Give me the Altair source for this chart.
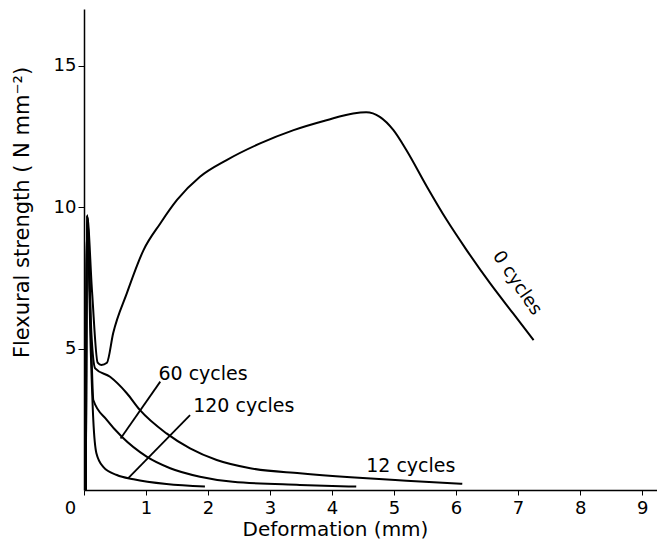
import altair as alt
import pandas as pd

# ---- data ----
zero_x = [0.03, 0.05, 0.13, 0.22, 0.28, 0.37, 0.47, 0.69, 0.96, 1.23, 1.50, 1.87, 2.30, 2.84, 3.38, 3.91, 4.34, 4.55, 4.77, 4.99, 5.20, 5.53, 5.85, 6.17, 6.55, 6.92, 7.25]
zero_y = [0.0, 9.7, 7.0, 4.5, 4.42, 4.5, 5.54, 6.95, 8.48, 9.42, 10.25, 11.07, 11.66, 12.25, 12.72, 13.07, 13.31, 13.35, 13.19, 12.72, 12.01, 10.72, 9.54, 8.48, 7.30, 6.24, 5.30]

c12_x = [0.03, 0.05, 0.12, 0.18, 0.42, 0.69, 0.90, 1.33, 1.71, 2.14, 2.68, 3.48, 4.30, 5.20, 6.10]
c12_y = [0.0, 9.7, 5.5, 4.3, 4.0, 3.42, 2.83, 2.0, 1.47, 1.06, 0.77, 0.59, 0.45, 0.33, 0.22]

c60_x = [0.03, 0.05, 0.12, 0.15, 0.37, 0.61, 1.01, 1.39, 1.87, 2.40, 3.48, 4.39]
c60_y = [0.0, 9.7, 4.84, 3.18, 2.47, 1.88, 1.18, 0.77, 0.47, 0.29, 0.18, 0.12]

c120_x = [0.03, 0.05, 0.11, 0.15, 0.20, 0.31, 0.53, 0.80, 1.33, 1.95]
c120_y = [0.0, 9.7, 4.84, 2.47, 1.30, 0.82, 0.53, 0.38, 0.21, 0.12]

leader_60_x = [1.23, 0.59]
leader_60_y = [3.83, 1.82]
leader_120_x = [1.71, 0.71]
leader_120_y = [2.65, 0.41]

label_text = ["60 cycles", "120 cycles", "12 cycles"]
label_x = [1.20, 1.76, 4.55]
label_y = [3.90, 2.75, 0.62]

zero_label = ["0 cycles"]
zero_label_x = [6.98]
zero_label_y = [7.31]

x_ticks = [0, 1, 2, 3, 4, 5, 6, 7, 8, 9]
y_ticks = [5, 10, 15]

FONT = "DejaVu Sans"

curve_rows = []
for name, xs_, ys_ in [("0", zero_x, zero_y), ("12", c12_x, c12_y),
                       ("60", c60_x, c60_y), ("120", c120_x, c120_y)]:
    for i, (a, b) in enumerate(zip(xs_, ys_)):
        curve_rows.append({"series": name, "x": a, "y": b, "i": i})
curves = pd.DataFrame(curve_rows)

leader_rows = []
for name, xs_, ys_ in [("L60", leader_60_x, leader_60_y), ("L120", leader_120_x, leader_120_y)]:
    for i, (a, b) in enumerate(zip(xs_, ys_)):
        leader_rows.append({"series": name, "x": a, "y": b, "i": i})
leaders = pd.DataFrame(leader_rows)

labels = pd.DataFrame({"t": label_text, "x": label_x, "y": label_y})
zl = pd.DataFrame({"t": zero_label, "x": zero_label_x, "y": zero_label_y})

xs = alt.Scale(domain=[0, 9.24], nice=False, zero=False)
ys = alt.Scale(domain=[0, 17.0], nice=False, zero=False)

x_axis = alt.Axis(values=x_ticks, format="d", title="Deformation (mm)", grid=False,
                  labelFont=FONT, labelFontSize=18, labelColor="black",
                  titleFont=FONT, titleFontSize=20, titleFontWeight="normal", titleColor="black",
                  domainColor="black", domainWidth=1.5, tickColor="black", tickSize=5,
                  labelPadding=4, labelFlush=False,
                  titleX=251, titleY=39, titleAlign="center", titleBaseline="middle",
                  labelOffset={"condition": {"test": "datum.value === 0", "value": -14}, "value": 0})
y_axis = alt.Axis(values=y_ticks, title="Flexural strength ( N mm⁻²)", grid=False,
                  labelFont=FONT, labelFontSize=18, labelColor="black",
                  titleFont=FONT, titleFontSize=21, titleFontWeight="normal", titleColor="black",
                  domainColor="black", domainWidth=1.5, tickColor="black", tickSize=6,
                  labelPadding=2, titleX=-62, titleY=203, titleAlign="center",
                  titleBaseline="middle", titleAngle=-90)

lines = alt.Chart(curves).mark_line(color="black", strokeWidth=2, interpolate="monotone").encode(
    x=alt.X("x:Q", scale=xs, axis=x_axis),
    y=alt.Y("y:Q", scale=ys, axis=y_axis),
    detail="series:N",
    order="i:Q",
)

lead = alt.Chart(leaders).mark_line(color="black", strokeWidth=1.8).encode(
    x=alt.X("x:Q", scale=xs),
    y=alt.Y("y:Q", scale=ys),
    detail="series:N",
    order="i:Q",
)

texts = alt.Chart(labels).mark_text(font=FONT, fontSize=19, color="black",
                                    align="left", baseline="alphabetic").encode(
    x=alt.X("x:Q", scale=xs), y=alt.Y("y:Q", scale=ys), text="t:N")

ztext = alt.Chart(zl).mark_text(font=FONT, fontSize=18, color="black", angle=56,
                                align="center", baseline="middle").encode(
    x=alt.X("x:Q", scale=xs), y=alt.Y("y:Q", scale=ys), text="t:N")

chart = alt.layer(lines, lead, texts, ztext).properties(
    width=573, height=481,
    autosize=alt.AutoSizeParams(type="none"),
    padding={"left": 76, "top": 1, "right": 0, "bottom": 53},
    background="white",
).configure_view(stroke=None)

chart.save("out.html", embed_options={"renderer": "svg", "actions": False})
